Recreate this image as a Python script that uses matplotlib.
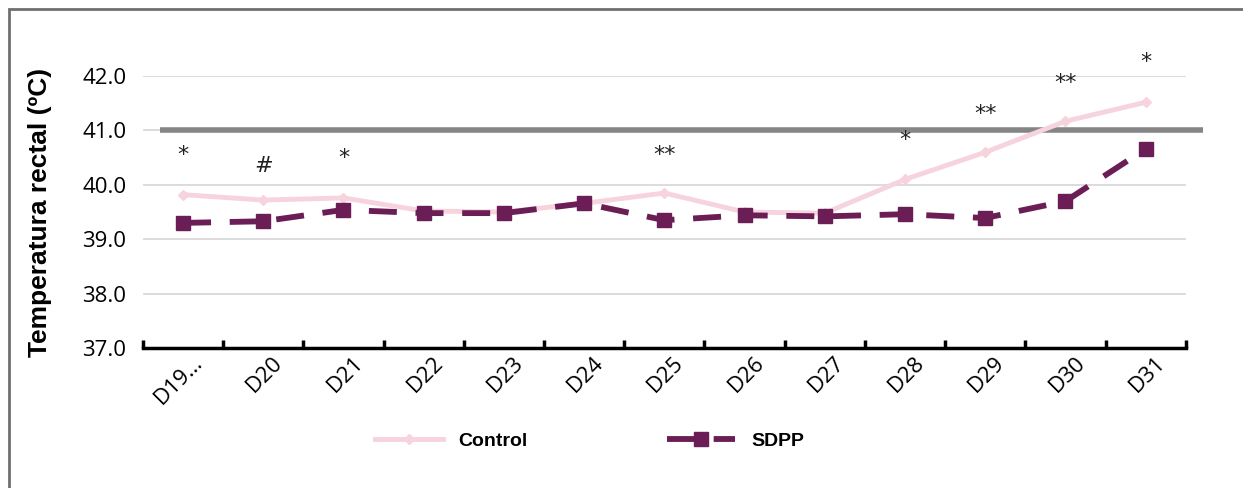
import numpy as np
import matplotlib.pyplot as plt
import matplotlib.transforms as mtransforms
from matplotlib.patches import Rectangle

# --- data ---
days = ["D19…", "D20", "D21", "D22", "D23", "D24", "D25",
        "D26", "D27", "D28", "D29", "D30", "D31"]
control = [39.82, 39.72, 39.76, 39.52, 39.50, 39.66, 39.85,
           39.50, 39.48, 40.10, 40.60, 41.17, 41.52]
sdpp = [39.30, 39.33, 39.54, 39.48, 39.48, 39.66, 39.35,
        39.44, 39.42, 39.46, 39.39, 39.70, 40.66]
marks = ["*", "#", "*", "", "", "", "**", "", "", "*", "**", "**", "*"]
mark_y = [40.55, 40.35, 40.50, None, None, None, 40.55,
          None, None, 40.82, 41.30, 41.88, 42.26]
threshold = 41.0

plt.rcParams['font.family'] = ['Open Sans', 'DejaVu Sans']

fig = plt.figure(figsize=(12.43, 4.88), dpi=100)
ax = fig.add_axes([0.115, 0.287, 0.839, 0.557])

x = np.arange(len(days))

# grid
for g in [38, 39, 40, 41, 42]:
    ax.axhline(g, color='#d9d9d9', lw=1.3, zorder=0)

# threshold line (sticks out a little to the right)
ax.plot([0.016, 1.016], [threshold, threshold], color='#858585', lw=4,
        transform=ax.get_yaxis_transform(), clip_on=False, zorder=1,
        solid_capstyle='butt')

ax.plot(x, control, color='#f7d3de', lw=3.5, marker='D', ms=5,
        label='Control', zorder=2)
ax.plot(x, sdpp, color='#6b1d56', lw=4.2, ls=(0, (4.8, 3.2)), marker='s', ms=10,
        label='SDPP', zorder=3)

for xi, m, my in zip(x, marks, mark_y):
    if m:
        ax.text(xi, my, m, ha='center', va='center', fontsize=16,
                family='DejaVu Sans', color='#222222', clip_on=False)

ax.set_xlim(-0.5, len(days) - 0.5)
ax.set_ylim(37, 42)
ax.set_yticks([37, 38, 39, 40, 41, 42])
ax.set_yticklabels([f"{v:.1f}" for v in [37, 38, 39, 40, 41, 42]], fontsize=16)
ax.tick_params(axis='y', length=0, pad=12)

ax.set_xticks(x)
ax.set_xticklabels(days, rotation=45, ha='right', rotation_mode='anchor',
                   fontsize=16)
ax.tick_params(axis='x', which='major', length=0, pad=6)
shift = mtransforms.ScaledTranslation(9 / 100, 4 / 100, fig.dpi_scale_trans)
for lab in ax.get_xticklabels():
    lab.set_transform(lab.get_transform() + shift)
ax.set_xticks(np.arange(-0.5, len(days)), minor=True)
ax.tick_params(axis='x', which='minor', direction='in', length=6, width=2.5)

for s in ['top', 'right', 'left']:
    ax.spines[s].set_visible(False)
ax.spines['bottom'].set_linewidth(2.5)

ax.set_ylabel('Temperatura rectal (ºC)', family='Liberation Sans',
              fontweight='bold', fontsize=19, labelpad=22)

leg = fig.legend(loc='center', bbox_to_anchor=(0.474, 0.096), ncol=2,
                 frameon=False, handlelength=3.5, columnspacing=7.2,
                 prop={'family': 'Liberation Sans', 'weight': 'bold', 'size': 14})

# outer frame (left and top only visible)
fig.patches.append(Rectangle((9 / 1243, -0.2), 1.2, 1.2 - 9 / 488,
                             transform=fig.transFigure, fill=False,
                             edgecolor='#6f6f6f', lw=2))

fig.savefig('out.png', dpi=100)
